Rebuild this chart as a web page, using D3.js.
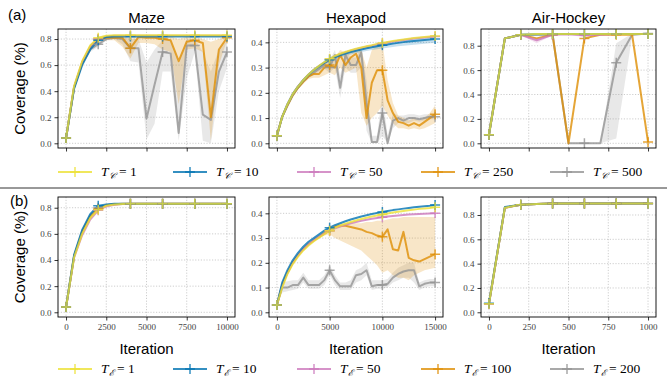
<!DOCTYPE html>
<html><head><meta charset="utf-8">
<script src="https://cdn.jsdelivr.net/npm/d3@7"></script>
<style>body{margin:0;background:#fff}svg{display:block}</style>
</head><body>
<svg id="c" width="667" height="381"></svg>
<script>
// ---------- x values ----------
const mazeX = [0,500,1000,1500,2000,2500,3000,3500,4000,4500,5000,5500,6000,6500,7000,7500,8000,8500,9000,9500,10000];
const hexX = [0,500,1000,1500,2000,2500,3000,3500,4000,4500,5000,5500,6000,6500,7000,7500,8000,8500,9000,9500,10000,10500,11000,11500,12000,12500,13000,13500,14000,14500,15000];
const airX = [0,100,200,300,400,500,600,700,800,900,1000];

// ---------- labels & ticks ----------
const legendTopValues = ["1","10","50","250","500"];
const legendBotValues = ["1","10","50","100","200"];
const panelTitles = ["Maze","Hexapod","Air-Hockey"];
const mazeTicks = [0,2500,5000,7500,10000];
const hexTicks = [0,5000,10000,15000];
const airTicks = [0,250,500,750,1000];
const yTicks08 = [0,0.2,0.4,0.6,0.8];
const yTicks04 = [0,0.1,0.2,0.3,0.4];

// ---------- (a) Maze ----------
const mazeA_T1   = [0.04,0.44,0.63,0.75,0.81,0.825,0.83,0.83,0.83,0.83,0.83,0.83,0.83,0.83,0.83,0.83,0.83,0.83,0.83,0.83,0.83];
const mazeA_T10  = [0.04,0.42,0.60,0.72,0.79,0.815,0.82,0.82,0.82,0.82,0.82,0.82,0.82,0.82,0.82,0.82,0.82,0.82,0.82,0.82,0.82];
const mazeA_T50  = [0.04,0.43,0.62,0.74,0.80,0.82,0.825,0.825,0.825,0.825,0.825,0.825,0.825,0.825,0.825,0.825,0.825,0.825,0.825,0.825,0.825];
const mazeA_T250 = [0.04,0.43,0.62,0.74,0.80,0.81,0.81,0.81,0.73,0.815,0.81,0.81,0.80,0.79,0.63,0.78,0.79,0.77,0.20,0.72,0.81];
const mazeA_T250lo = [0.04,0.42,0.60,0.72,0.78,0.79,0.79,0.74,0.65,0.77,0.77,0.76,0.72,0.70,0.30,0.72,0.73,0.70,0.02,0.60,0.79];
const mazeA_T250hi = [0.04,0.44,0.64,0.76,0.82,0.83,0.83,0.82,0.81,0.83,0.83,0.83,0.82,0.82,0.80,0.82,0.82,0.80,0.78,0.80,0.83];
const mazeA_T500 = [0.04,0.43,0.61,0.72,0.76,0.80,0.81,0.80,0.73,0.73,0.19,0.45,0.70,0.69,0.08,0.75,0.75,0.22,0.18,0.55,0.70];
const mazeA_T500lo = [0.04,0.42,0.60,0.70,0.74,0.79,0.80,0.76,0.63,0.62,0.03,0.15,0.55,0.55,0.02,0.50,0.70,0.02,0.00,0.40,0.58];
const mazeA_T500hi = [0.04,0.44,0.64,0.75,0.79,0.81,0.82,0.82,0.80,0.80,0.62,0.72,0.79,0.79,0.62,0.80,0.80,0.70,0.55,0.72,0.80];

// ---------- (a) Hexapod ----------
const hexA_T1   = [0.03,0.105,0.155,0.195,0.225,0.25,0.273,0.291,0.307,0.322,0.335,0.346,0.355,0.362,0.369,0.375,0.38,0.385,0.389,0.394,0.398,0.402,0.405,0.408,0.411,0.414,0.417,0.419,0.421,0.423,0.425];
const hexA_T10  = [0.03,0.105,0.155,0.195,0.225,0.25,0.272,0.29,0.305,0.319,0.331,0.341,0.349,0.356,0.362,0.367,0.372,0.377,0.381,0.385,0.389,0.392,0.395,0.398,0.401,0.403,0.405,0.407,0.409,0.411,0.413];
const hexA_T10lo = [0.03,0.10,0.15,0.19,0.22,0.245,0.266,0.284,0.298,0.311,0.322,0.331,0.339,0.346,0.352,0.357,0.362,0.366,0.37,0.373,0.376,0.379,0.382,0.385,0.387,0.389,0.391,0.393,0.395,0.397,0.398];
const hexA_T10hi = [0.03,0.11,0.16,0.20,0.23,0.255,0.278,0.296,0.312,0.327,0.34,0.35,0.358,0.365,0.371,0.377,0.382,0.387,0.391,0.395,0.399,0.402,0.405,0.408,0.411,0.413,0.416,0.418,0.42,0.422,0.424];
const hexA_T50  = [0.03,0.105,0.155,0.195,0.226,0.251,0.273,0.291,0.306,0.32,0.333,0.344,0.353,0.36,0.367,0.373,0.378,0.383,0.387,0.392,0.396,0.40,0.403,0.406,0.409,0.412,0.415,0.417,0.419,0.421,0.423];
const hexA_T250 = [0.03,0.105,0.15,0.19,0.22,0.245,0.265,0.275,0.275,0.30,0.31,0.30,0.35,0.31,0.34,0.355,0.30,0.10,0.24,0.29,0.29,0.17,0.12,0.085,0.08,0.07,0.08,0.07,0.085,0.10,0.115];
const hexA_T250lo = [0.03,0.10,0.145,0.185,0.215,0.235,0.255,0.26,0.26,0.27,0.28,0.27,0.30,0.28,0.29,0.30,0.12,0.07,0.10,0.12,0.15,0.11,0.08,0.06,0.06,0.055,0.06,0.055,0.06,0.07,0.08];
const hexA_T250hi = [0.03,0.11,0.155,0.195,0.225,0.25,0.27,0.285,0.30,0.32,0.34,0.34,0.37,0.36,0.37,0.37,0.37,0.30,0.37,0.39,0.40,0.25,0.16,0.11,0.10,0.09,0.10,0.09,0.10,0.12,0.15];
const hexA_T500 = [0.03,0.105,0.15,0.19,0.22,0.245,0.265,0.28,0.295,0.31,0.30,0.35,0.22,0.35,0.31,0.31,0.36,0.16,0.005,0.005,0.12,0.0,0.09,0.10,0.09,0.10,0.10,0.095,0.10,0.105,0.105];
const hexA_T500lo = [0.03,0.10,0.145,0.185,0.215,0.24,0.26,0.27,0.285,0.295,0.28,0.30,0.18,0.30,0.28,0.28,0.30,0.05,0.0,0.0,0.03,0.0,0.06,0.08,0.08,0.08,0.09,0.085,0.09,0.095,0.095];
const hexA_T500hi = [0.03,0.11,0.155,0.195,0.225,0.25,0.27,0.29,0.305,0.32,0.33,0.37,0.27,0.37,0.34,0.34,0.38,0.25,0.03,0.03,0.20,0.03,0.12,0.11,0.11,0.115,0.115,0.11,0.115,0.115,0.115];

// ---------- (a) Air-Hockey ----------
const airA_T1   = [0.07,0.86,0.89,0.895,0.895,0.895,0.895,0.895,0.895,0.895,0.895];
const airA_T10  = [0.07,0.86,0.89,0.893,0.895,0.895,0.895,0.895,0.895,0.895,0.895];
const airA_T50  = [0.07,0.86,0.89,0.845,0.89,0.893,0.885,0.89,0.895,0.895,0.895];
const airA_T50lo = [0.07,0.86,0.885,0.82,0.885,0.89,0.87,0.885,0.89,0.89,0.89];
const airA_T50hi = [0.07,0.86,0.895,0.87,0.895,0.895,0.895,0.895,0.90,0.90,0.90];
const airA_T250 = [0.07,0.86,0.89,0.86,0.89,0.0,0.86,0.89,0.89,0.89,0.01];
const airA_T500 = [0.07,0.86,0.89,0.89,0.89,0.0,0.0,0.0,0.66,0.89,0.90];
const airA_T500lo = [0.07,0.86,0.885,0.885,0.885,0.0,0.0,0.0,0.04,0.88,0.895];
const airA_T500hi = [0.07,0.86,0.895,0.895,0.895,0.0,0.0,0.0,0.82,0.90,0.905];

// ---------- (b) Maze ----------
const mazeB_T1   = [0.04,0.42,0.60,0.72,0.785,0.815,0.825,0.828,0.83,0.83,0.83,0.83,0.83,0.83,0.83,0.83,0.83,0.83,0.83,0.83,0.83];
const mazeB_T10  = [0.04,0.44,0.63,0.75,0.815,0.825,0.83,0.83,0.83,0.83,0.83,0.83,0.83,0.83,0.83,0.83,0.83,0.83,0.83,0.83,0.83];
const mazeB_T50  = [0.04,0.42,0.59,0.71,0.78,0.81,0.823,0.828,0.83,0.83,0.83,0.83,0.83,0.83,0.83,0.83,0.83,0.83,0.83,0.83,0.83];
const mazeB_T100 = [0.04,0.43,0.61,0.73,0.79,0.818,0.826,0.83,0.83,0.83,0.83,0.83,0.83,0.83,0.83,0.83,0.83,0.83,0.83,0.83,0.83];
const mazeB_T200 = [0.04,0.43,0.62,0.74,0.80,0.82,0.826,0.828,0.828,0.828,0.828,0.828,0.828,0.828,0.828,0.828,0.828,0.828,0.828,0.828,0.828];

// ---------- (b) Hexapod ----------
const hexB_T1   = [0.03,0.10,0.155,0.195,0.225,0.25,0.27,0.287,0.302,0.316,0.33,0.341,0.35,0.358,0.365,0.371,0.377,0.382,0.387,0.391,0.395,0.399,0.403,0.406,0.409,0.412,0.415,0.418,0.42,0.422,0.425];
const hexB_T10  = [0.03,0.12,0.17,0.21,0.24,0.265,0.285,0.30,0.315,0.33,0.342,0.352,0.36,0.368,0.375,0.381,0.387,0.392,0.397,0.401,0.405,0.409,0.413,0.416,0.419,0.422,0.425,0.427,0.429,0.431,0.434];
const hexB_T50  = [0.03,0.11,0.16,0.20,0.23,0.255,0.275,0.292,0.306,0.318,0.33,0.339,0.347,0.354,0.36,0.365,0.37,0.374,0.378,0.381,0.384,0.387,0.389,0.391,0.393,0.395,0.396,0.397,0.398,0.399,0.40];
const hexB_T100 = [0.03,0.11,0.16,0.20,0.23,0.255,0.275,0.29,0.305,0.32,0.33,0.345,0.35,0.35,0.345,0.34,0.335,0.325,0.32,0.31,0.305,0.335,0.255,0.25,0.325,0.22,0.21,0.205,0.215,0.225,0.235];
const hexB_T100lo = [0.03,0.105,0.155,0.195,0.225,0.25,0.27,0.285,0.30,0.31,0.315,0.30,0.29,0.28,0.27,0.26,0.25,0.23,0.21,0.19,0.16,0.17,0.15,0.14,0.14,0.13,0.15,0.16,0.17,0.175,0.18];
const hexB_T100hi = [0.03,0.115,0.165,0.205,0.235,0.26,0.28,0.295,0.31,0.33,0.345,0.355,0.36,0.36,0.36,0.36,0.36,0.365,0.365,0.37,0.37,0.375,0.38,0.38,0.385,0.385,0.385,0.385,0.385,0.385,0.385];
const hexB_T200 = [0.03,0.10,0.10,0.11,0.11,0.14,0.11,0.11,0.11,0.13,0.17,0.13,0.105,0.105,0.105,0.15,0.155,0.17,0.105,0.11,0.11,0.115,0.14,0.155,0.165,0.17,0.17,0.105,0.115,0.12,0.12];
const hexB_T200lo = [0.03,0.08,0.085,0.09,0.095,0.12,0.095,0.095,0.095,0.11,0.15,0.11,0.09,0.09,0.09,0.12,0.13,0.15,0.09,0.095,0.095,0.10,0.12,0.13,0.14,0.14,0.12,0.09,0.10,0.105,0.105];
const hexB_T200hi = [0.03,0.12,0.125,0.13,0.13,0.16,0.13,0.13,0.13,0.15,0.19,0.15,0.12,0.12,0.13,0.17,0.18,0.20,0.13,0.13,0.13,0.135,0.16,0.18,0.19,0.20,0.20,0.12,0.13,0.135,0.135];

// ---------- (b) Air-Hockey ----------
const airB_T1   = [0.07,0.86,0.885,0.89,0.895,0.895,0.895,0.895,0.895,0.895,0.895];
const airB_T10  = [0.075,0.865,0.885,0.89,0.895,0.895,0.895,0.895,0.895,0.895,0.895];
const airB_T50  = [0.07,0.86,0.885,0.89,0.895,0.895,0.895,0.895,0.895,0.895,0.895];
const airB_T100 = [0.07,0.86,0.885,0.89,0.895,0.895,0.895,0.895,0.895,0.895,0.895];
const airB_T200 = [0.07,0.86,0.885,0.89,0.895,0.895,0.895,0.895,0.895,0.895,0.895];

// ---------- style ----------
const colors = ["#ece133","#0173b2","#cc78bc","#de8f05","#949494"];
const LINE_OP = 0.8, FILL_OP = 0.22;
const serif = "'Liberation Serif','DejaVu Serif',serif";
const sans = "'Liberation Sans',Arial,'DejaVu Sans',sans-serif";

const cols = [[58,235],[269,443],[481,656]];
const rowA = [29,148], rowB = [197,317];

const panels = [
  {x:mazeX, s:[mazeA_T1,mazeA_T10,mazeA_T50,mazeA_T250,mazeA_T500],
   b:[null,null,null,[mazeA_T250lo,mazeA_T250hi],[mazeA_T500lo,mazeA_T500hi]],
   xd:[-500,10500], yd:[-0.036,0.877], c:cols[0], r:rowA, xt:mazeTicks, yt:yTicks08, lab:false, me:4},
  {x:hexX, s:[hexA_T1,hexA_T10,hexA_T50,hexA_T250,hexA_T500],
   b:[null,[hexA_T10lo,hexA_T10hi],null,[hexA_T250lo,hexA_T250hi],[hexA_T500lo,hexA_T500hi]],
   xd:[-750,15750], yd:[-0.0186,0.453], c:cols[1], r:rowA, xt:hexTicks, yt:yTicks04, lab:false, me:10},
  {x:airX, s:[airA_T1,airA_T10,airA_T50,airA_T250,airA_T500],
   b:[null,null,[airA_T50lo,airA_T50hi],null,[airA_T500lo,airA_T500hi]],
   xd:[-50,1050], yd:[-0.0385,0.937], c:cols[2], r:rowA, xt:airTicks, yt:yTicks08, lab:false, me:2},
  {x:mazeX, s:[mazeB_T1,mazeB_T10,mazeB_T50,mazeB_T100,mazeB_T200],
   b:[null,null,null,null,null],
   xd:[-500,10500], yd:[-0.036,0.882], c:cols[0], r:rowB, xt:mazeTicks, yt:yTicks08, lab:true, me:4},
  {x:hexX, s:[hexB_T1,hexB_T10,hexB_T50,hexB_T100,hexB_T200],
   b:[null,null,null,[hexB_T100lo,hexB_T100hi],[hexB_T200lo,hexB_T200hi]],
   xd:[-750,15750], yd:[-0.019,0.466], c:cols[1], r:rowB, xt:hexTicks, yt:yTicks04, lab:true, me:10},
  {x:airX, s:[airB_T1,airB_T10,airB_T50,airB_T100,airB_T200],
   b:[null,null,null,null,null],
   xd:[-50,1050], yd:[-0.0387,0.948], c:cols[2], r:rowB, xt:airTicks, yt:yTicks08, lab:true, me:2}
];

const svg = d3.select("#c");
const plus = "M-5,0H5M0,-5V5";

function drawPanel(p, idx){
  const g = svg.append("g");
  const x = d3.scaleLinear().domain(p.xd).range(p.c);
  const y = d3.scaleLinear().domain(p.yd).range([p.r[1], p.r[0]]);
  const cid = "clip"+idx;
  g.append("clipPath").attr("id",cid).append("rect")
    .attr("x",p.c[0]).attr("y",p.r[0]).attr("width",p.c[1]-p.c[0]).attr("height",p.r[1]-p.r[0]);
  // grid
  g.append("g").selectAll("line").data(p.xt).join("line")
    .attr("x1",d=>x(d)).attr("x2",d=>x(d)).attr("y1",p.r[0]).attr("y2",p.r[1])
    .attr("stroke","#b8b8b8").attr("stroke-width",0.7).attr("stroke-dasharray","1.2,1.6");
  g.append("g").selectAll("line").data(p.yt).join("line")
    .attr("y1",d=>y(d)).attr("y2",d=>y(d)).attr("x1",p.c[0]).attr("x2",p.c[1])
    .attr("stroke","#b8b8b8").attr("stroke-width",0.7).attr("stroke-dasharray","1.2,1.6");
  const plot = g.append("g").attr("clip-path",`url(#${cid})`);
  const order = [4,3,2,1,0];
  order.forEach(i=>{
    if(!p.b[i]) return;
    const lo = p.b[i][0], hi = p.b[i][1];
    const area = d3.area().x((d,j)=>x(p.x[j])).y0((d,j)=>y(lo[j])).y1((d,j)=>y(hi[j]));
    plot.append("path").attr("d",area(lo)).attr("fill",colors[i]).attr("fill-opacity",FILL_OP);
  });
  order.forEach(i=>{
    const vals = p.s[i];
    const line = d3.line().x((d,j)=>x(p.x[j])).y(d=>y(d));
    plot.append("path").attr("d",line(vals)).attr("fill","none")
      .attr("stroke",colors[i]).attr("stroke-opacity",LINE_OP).attr("stroke-width",2)
      .attr("stroke-linejoin","round");
    const pts = vals.map((v,j)=>[p.x[j],v]).filter((d,j)=>j%p.me===0);
    g.append("g").selectAll("path").data(pts).join("path")
      .attr("transform",d=>`translate(${x(d[0])},${y(d[1])})`)
      .attr("d",plus).attr("stroke",colors[i]).attr("stroke-opacity",LINE_OP).attr("stroke-width",1.5).attr("fill","none");
  });
  // frame
  g.append("rect").attr("x",p.c[0]).attr("y",p.r[0]).attr("width",p.c[1]-p.c[0]).attr("height",p.r[1]-p.r[0])
    .attr("fill","none").attr("stroke","#000").attr("stroke-width",0.9);
  // axes
  const xa = d3.axisBottom(x).tickValues(p.xt).tickSize(3.5).tickPadding(3)
    .tickFormat(p.lab ? d3.format("d") : ()=>"");
  const ya = d3.axisLeft(y).tickValues(p.yt).tickSize(3.5).tickPadding(3).tickFormat(d3.format(".1f"));
  const gx = g.append("g").attr("transform",`translate(0,${p.r[1]})`).call(xa);
  const gy = g.append("g").attr("transform",`translate(${p.c[0]},0)`).call(ya);
  [gx,gy].forEach(a=>{
    a.select(".domain").remove();
    a.selectAll(".tick line").attr("stroke","#000").attr("stroke-width",0.8);
    a.selectAll(".tick text").attr("font-family",serif).attr("font-size",9).attr("fill","#444");
  });
}
panels.forEach(drawPanel);

// titles
panelTitles.forEach((t,i)=>{
  svg.append("text").attr("x",(cols[i][0]+cols[i][1])/2).attr("y",23).attr("text-anchor","middle")
    .attr("font-family",sans).attr("font-size",15).text(t);
  svg.append("text").attr("x",(cols[i][0]+cols[i][1])/2).attr("y",354).attr("text-anchor","middle")
    .attr("font-family",sans).attr("font-size",15).text("Iteration");
});
svg.append("text").attr("x",8).attr("y",20).attr("font-family",sans).attr("font-size",15).text("(a)");
svg.append("text").attr("x",10).attr("y",206).attr("font-family",sans).attr("font-size",15).text("(b)");
[88.5,257].forEach(cy=>{
  svg.append("text").attr("transform",`translate(25,${cy}) rotate(-90)`).attr("text-anchor","middle")
    .attr("font-family",sans).attr("font-size",15).text("Coverage (%)");
});
// separator
svg.append("line").attr("x1",0).attr("x2",667).attr("y1",188).attr("y2",188).attr("stroke","#333").attr("stroke-width",1);

// legends
const legX = [58,173,297,421,550];
function legend(yPos, sub, vals){
  vals.forEach((v,i)=>{
    const lx = legX[i];
    svg.append("line").attr("x1",lx).attr("x2",lx+34).attr("y1",yPos).attr("y2",yPos)
      .attr("stroke",colors[i]).attr("stroke-opacity",LINE_OP).attr("stroke-width",2);
    svg.append("path").attr("transform",`translate(${lx+17},${yPos})`).attr("d",plus)
      .attr("stroke",colors[i]).attr("stroke-opacity",LINE_OP).attr("stroke-width",1.5);
    const t = svg.append("text").attr("x",lx+43).attr("y",yPos+4).attr("font-family",serif).attr("font-size",13.5);
    t.append("tspan").attr("font-style","italic").text("T");
    t.append("tspan").attr("font-size",9).attr("dy",3).attr("font-style","italic").text(sub);
    t.append("tspan").attr("dy",-3).text(" = "+v);
  });
}
legend(172, "\u{1D49E}", legendTopValues);
legend(369, "\u2130", legendBotValues);
</script>
</body></html>
